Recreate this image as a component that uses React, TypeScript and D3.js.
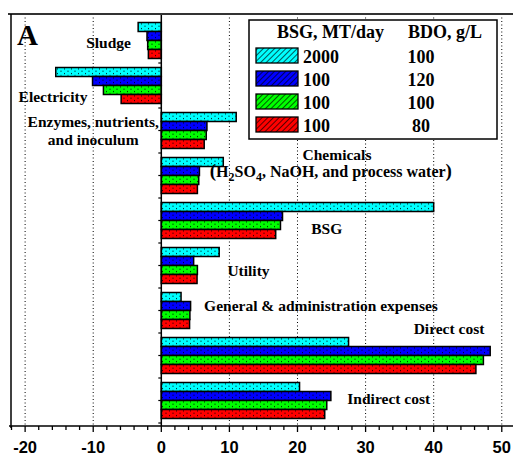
import React from "react";
import * as d3 from "d3";

const categories = ["Sludge", "Electricity", "Enzymes", "Chemicals", "BSG", "Utility", "G&A", "Direct", "Indirect"];
const seriesKeys = ["s2000_100", "s100_120", "s100_100", "s100_80"];
const s2000_100 = [-3.4, -15.5, 11.0, 9.1, 40.0, 8.5, 2.9, 27.5, 20.3];
const s100_120 = [-2.1, -10.1, 6.7, 5.6, 17.8, 4.75, 4.3, 48.3, 24.9];
const s100_100 = [-2.0, -8.5, 6.6, 5.5, 17.5, 5.3, 4.2, 47.3, 24.3];
const s100_80 = [-1.9, -5.9, 6.3, 5.3, 16.8, 5.25, 4.15, 46.2, 24.0];
const seriesValues = [s2000_100, s100_120, s100_100, s100_80];
const seriesColors = ["#00FFFF", "#0000FF", "#00FF00", "#FF0000"];
const legendBSG = ["2000", "100", "100", "100"];
const legendBDO = ["100", "120", "100", "80"];
const majorTicks = [-20, -10, 0, 10, 20, 30, 40, 50];
const minorTicks = d3.range(-22, 53, 2);

// category labels: x in data units (center), baseline offsets from band top
const catLabels = [
  { cat: "Sludge", x: -7.75, lines: [{ t: "Sludge", dy: 25.5 }] },
  { cat: "Electricity", x: -15.9, lines: [{ t: "Electricity", dy: 34.5 }] },
  { cat: "Enzymes", x: -10.0, lines: [{ t: "Enzymes, nutrients,", dy: 14.5 }, { t: "and inoculum", dy: 32.5 }] },
  { cat: "BSG", x: 24.3, lines: [{ t: "BSG", dy: 31 }] },
  { cat: "Utility", x: 12.8, lines: [{ t: "Utility", dy: 28.5 }] },
  { cat: "G&A", x: 23.45, lines: [{ t: "General & administration expenses", dy: 18 }] },
  { cat: "Direct", x: 42.25, lines: [{ t: "Direct cost", dy: -3.5 }] },
  { cat: "Indirect", x: 33.4, lines: [{ t: "Indirect cost", dy: 21 }] },
];

export default function App() {
  const W = 513, H = 455;
  const x = d3.scaleLinear().domain([-22, 52]).range([11.5, 515.4]);
  const y = d3.scaleBand<string>().domain(categories).range([18, 423]).paddingInner(0.2).paddingOuter(0.1);
  const ys = d3.scaleBand<string>().domain(seriesKeys).range([0, y.bandwidth()]);
  const top = 14, axisY = 426;
  const serif = "'Liberation Serif', 'Times New Roman', serif";
  const sans = "'Liberation Sans', Arial, sans-serif";
  const x0 = x(0);
  const step = y.step();
  const zeroTicks: number[] = [];
  categories.forEach((c) => {
    zeroTicks.push((y(c) as number) + y.bandwidth() / 2);
    zeroTicks.push((y(c) as number) + y.bandwidth() + (step - y.bandwidth()) / 2);
  });
  const chemTop = y("Chemicals") as number;
  const lf = 15.5;

  return (
    <svg width={W} height={H} style={{ position: "absolute", left: 0, top: 0, background: "#fff" }}>
      <defs>
        {seriesColors.map((c, i) => (
          <pattern key={"d" + i} id={"dots" + i} width={7} height={4.5} patternUnits="userSpaceOnUse">
            <rect width={7} height={4.5} fill={c} />
            <rect x={1} y={1} width={1} height={1} fill="#000" />
            <rect x={4.5} y={3.25} width={1} height={1} fill="#000" />
          </pattern>
        ))}
        {seriesColors.map((c, i) => (
          <pattern key={"h" + i} id={"hatch" + i} width={4} height={4} patternUnits="userSpaceOnUse" patternTransform="rotate(45)">
            <rect width={4} height={4} fill={c} />
            <line x1={0} y1={0} x2={0} y2={4} stroke="#000" strokeWidth={1.3} />
          </pattern>
        ))}
      </defs>

      {/* gridlines */}
      {majorTicks.filter((t) => t !== 0).map((t) => (
        <line key={"g" + t} x1={x(t)} x2={x(t)} y1={top} y2={axisY} stroke="#000" strokeWidth={1} strokeDasharray="1,2.5" />
      ))}

      {/* bars */}
      {categories.map((c, ci) =>
        seriesKeys.map((k, si) => {
          const v = seriesValues[si][ci];
          const by = (y(c) as number) + (ys(k) as number);
          return (
            <rect
              key={c + k}
              x={Math.min(x(v), x0)}
              y={by}
              width={Math.abs(x(v) - x0)}
              height={ys.bandwidth()}
              fill={`url(#dots${si})`}
              stroke="#000"
              strokeWidth={1.5}
            />
          );
        })
      )}

      {/* zero line */}
      <line x1={x0} x2={x0} y1={top} y2={axisY} stroke="#000" strokeWidth={1.5} />
      {zeroTicks.map((t, i) => (
        <line key={"zt" + i} x1={x0 - 3} x2={x0} y1={t} y2={t} stroke="#000" strokeWidth={1.2} />
      ))}

      {/* frame */}
      <line x1={8} x2={W} y1={top} y2={top} stroke="#333" strokeWidth={2.2} />
      <line x1={11} x2={11} y1={top} y2={axisY + 2} stroke="#000" strokeWidth={1.5} />
      <line x1={9} x2={W} y1={axisY} y2={axisY} stroke="#000" strokeWidth={1.5} />
      {minorTicks.map((t) => (
        <line key={"mt" + t} x1={x(t)} x2={x(t)} y1={axisY} y2={axisY + (t % 10 === 0 ? 6 : 4)} stroke="#000" strokeWidth={1.3} />
      ))}
      {majorTicks.map((t) => (
        <text key={"tl" + t} x={x(t)} y={453} textAnchor="middle" fontFamily={sans} fontWeight="bold" fontSize={16.5} fill="#000">
          {t}
        </text>
      ))}

      {/* panel letter */}
      <text x={17} y={45} fontFamily={serif} fontWeight="bold" fontSize={29} fill="#000">A</text>

      {/* category labels */}
      {catLabels.map((l) =>
        l.lines.map((ln, i) => (
          <text key={l.cat + i} x={x(l.x)} y={(y(l.cat) as number) + ln.dy} textAnchor="middle" fontFamily={serif} fontWeight="bold" fontSize={lf} fill="#000">
            {ln.t}
          </text>
        ))
      )}
      <text x={x(25.8)} y={chemTop + 2.5} textAnchor="middle" fontFamily={serif} fontWeight="bold" fontSize={lf} fill="#000">Chemicals</text>
      <text x={x(24.9)} y={chemTop + 19.5} textAnchor="middle" fontFamily={serif} fontWeight="bold" fontSize={16} fill="#000">
        <tspan fontSize={19}>(</tspan>H<tspan fontSize={12} dy={4}>2</tspan><tspan dy={-4}>SO</tspan><tspan fontSize={12} dy={4}>4</tspan><tspan dy={-4}>, NaOH, and process water</tspan><tspan fontSize={19}>)</tspan>
      </text>

      {/* legend */}
      <rect x={249} y={20} width={248} height={119} fill="#fff" stroke="#000" strokeWidth={1.5} />
      <text x={277} y={37.5} fontFamily={serif} fontWeight="bold" fontSize={18} fill="#000">BSG, MT/day</text>
      <text x={408} y={37.5} fontFamily={serif} fontWeight="bold" fontSize={18} fill="#000">BDO, g/L</text>
      {legendBSG.map((b, i) => {
        const ry = 48 + i * 23;
        return (
          <g key={"lg" + i}>
            <rect x={256} y={ry} width={42} height={15} fill={`url(#hatch${i})`} stroke="#000" strokeWidth={1.3} />
            <text x={303} y={ry + 14.7} fontFamily={serif} fontWeight="bold" fontSize={18} fill="#000">{b}</text>
            <text x={421} y={ry + 14.7} textAnchor="middle" fontFamily={serif} fontWeight="bold" fontSize={18} fill="#000">{legendBDO[i]}</text>
          </g>
        );
      })}
    </svg>
  );
}
